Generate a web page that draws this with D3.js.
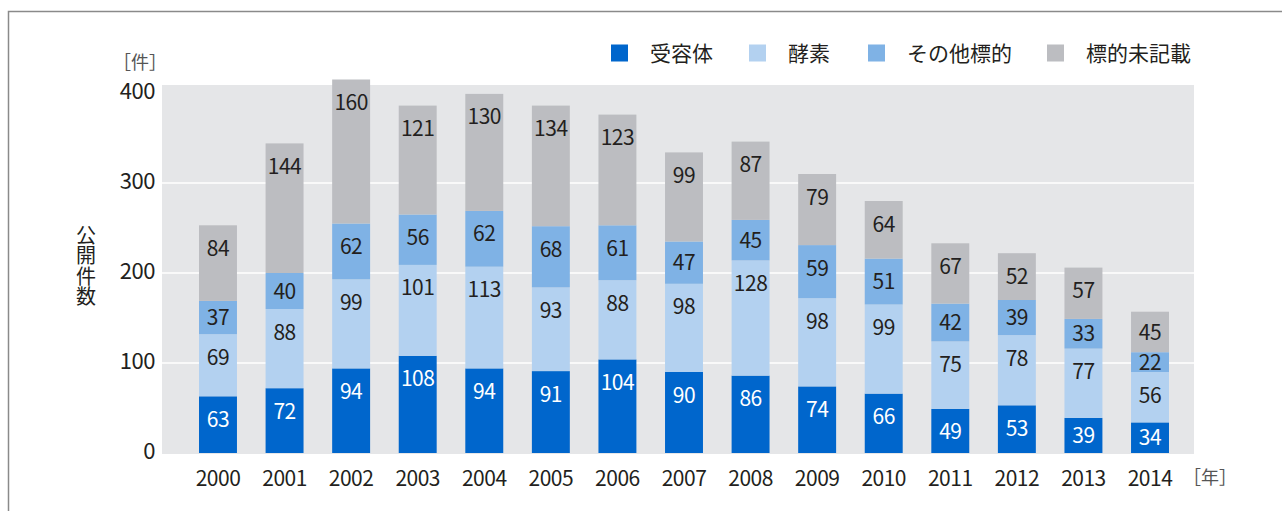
<!DOCTYPE html>
<html lang="ja">
<head>
<meta charset="UTF-8" />
<title>公開件数</title>
<script src="https://cdn.jsdelivr.net/npm/d3@7"></script>
<style>
  body { margin: 0; background: #fff; }
  svg { display: block; font-family: "Noto Sans CJK JP", "Open Sans", sans-serif; }
</style>
</head>
<body>
<div id="chart"></div>
<script>
// data
var years = ["2000","2001","2002","2003","2004","2005","2006","2007","2008","2009","2010","2011","2012","2013","2014"];
var seriesNames = ["受容体", "酵素", "その他標的", "標的未記載"];
var receptor = [63, 72, 94, 108, 94, 91, 104, 90, 86, 74, 66, 49, 53, 39, 34];
var enzyme   = [69, 88, 99, 101, 113, 93, 88, 98, 128, 98, 99, 75, 78, 77, 56];
var other    = [37, 40, 62, 56, 62, 68, 61, 47, 45, 59, 51, 42, 39, 33, 22];
var unknown  = [84, 144, 160, 121, 130, 134, 123, 99, 87, 79, 64, 67, 52, 57, 45];
var yTicks = [0, 100, 200, 300, 400];

var colors = ["#0066cc", "#b3d1f0", "#7fb2e5", "#bcbdc1"];
var width = 1282, height = 511;

var svg = d3.select("#chart").append("svg")
  .attr("width", width)
  .attr("height", height);

// outer frame
svg.append("path")
  .attr("d", "M8.5," + height + "V11.5H" + width)
  .attr("fill", "none")
  .attr("stroke", "#8a8a8a")
  .attr("stroke-width", 1.5);

var plot = {left: 162, right: 1194, top: 85, bottom: 454};

var yScale = d3.scaleLinear()
  .domain([0, 400])
  .range([453, 93]);

var xScale = d3.scaleBand()
  .domain(years)
  .range([184.7, 1183.3])
  .paddingInner(0.43)
  .paddingOuter(0.215);

// plot background
svg.append("rect")
  .attr("x", plot.left)
  .attr("y", plot.top)
  .attr("width", plot.right - plot.left)
  .attr("height", plot.bottom - plot.top)
  .attr("fill", "#e5e6e8");

// gridlines
svg.selectAll(".grid")
  .data([100, 200, 300])
  .enter()
  .append("line")
  .attr("class", "grid")
  .attr("x1", plot.left)
  .attr("x2", plot.right)
  .attr("y1", function(d){ return yScale(d); })
  .attr("y2", function(d){ return yScale(d); })
  .attr("stroke", "#ffffff")
  .attr("stroke-width", 1.5);

var table = years.map(function(y, i){
  return {year: y, 0: receptor[i], 1: enzyme[i], 2: other[i], 3: unknown[i]};
});
var stacked = d3.stack().keys([0, 1, 2, 3])(table);

var layers = svg.selectAll(".layer")
  .data(stacked)
  .enter()
  .append("g")
  .attr("class", "layer")
  .attr("fill", function(d, i){ return colors[i]; });

layers.selectAll("rect")
  .data(function(d){ return d; })
  .enter()
  .append("rect")
  .attr("x", function(d){ return xScale(d.data.year); })
  .attr("width", xScale.bandwidth())
  .attr("y", function(d){ return yScale(d[1]); })
  .attr("height", function(d){ return yScale(d[0]) - yScale(d[1]); });

// value labels - near the top of tall segments, centred in short ones
stacked.forEach(function(layer, k){
  svg.append("g")
    .selectAll("text")
    .data(layer)
    .enter()
    .append("text")
    .attr("x", function(d){ return xScale(d.data.year) + xScale.bandwidth() / 2; })
    .attr("y", function(d){
      var h = yScale(d[0]) - yScale(d[1]);
      return yScale(d[1]) + Math.min(h / 2, 23);
    })
    .attr("dy", "0.36em")
    .attr("text-anchor", "middle")
    .attr("font-size", "21px")
    .attr("letter-spacing", "-0.5px")
    .attr("fill", k == 0 ? "#ffffff" : "#231f20")
    .text(function(d){ return d.data[k]; });
});

// y axis tick labels
svg.append("g")
  .selectAll("text")
  .data(yTicks)
  .enter()
  .append("text")
  .attr("x", 155)
  .attr("y", function(d){ return yScale(d) - 2; })
  .attr("dy", "0.36em")
  .attr("text-anchor", "end")
  .attr("font-size", "22px")
  .attr("letter-spacing", "-0.5px")
  .attr("fill", "#231f20")
  .text(function(d){ return d; });

// x axis labels
svg.append("g")
  .selectAll("text")
  .data(years)
  .enter()
  .append("text")
  .attr("x", function(d){ return xScale(d) + xScale.bandwidth() / 2; })
  .attr("y", 478)
  .attr("dy", "0.36em")
  .attr("text-anchor", "middle")
  .attr("font-size", "21px")
  .attr("letter-spacing", "-0.5px")
  .attr("fill", "#231f20")
  .text(function(d){ return d; });

// units
svg.append("text")
  .attr("x", 140).attr("y", 63).attr("dy", "0.36em")
  .attr("text-anchor", "middle")
  .attr("font-size", "18px")
  .attr("fill", "#555")
  .text("［件］");

svg.append("text")
  .attr("x", 1210).attr("y", 478).attr("dy", "0.36em")
  .attr("text-anchor", "middle")
  .attr("font-size", "18px")
  .attr("fill", "#555")
  .text("［年］");

// vertical y title
svg.append("text")
  .attr("x", 86)
  .attr("y", 225)
  .style("writing-mode", "vertical-rl")
  .attr("font-size", "20px")
  .attr("letter-spacing", "0.5px")
  .attr("fill", "#231f20")
  .text("公開件数");

// legend
var legendX = [611, 749, 868, 1047];
var legend = svg.append("g")
  .selectAll("g")
  .data(seriesNames)
  .enter()
  .append("g")
  .attr("transform", function(d, i){ return "translate(" + legendX[i] + ",53)"; });

legend.append("rect")
  .attr("x", 0).attr("y", -8.5)
  .attr("width", 17).attr("height", 17)
  .attr("fill", function(d, i){ return colors[i]; });

legend.append("text")
  .attr("x", 39)
  .attr("dy", "0.36em")
  .attr("font-size", "21px")
  .attr("fill", "#231f20")
  .text(function(d){ return d; });
</script>
</body>
</html>
